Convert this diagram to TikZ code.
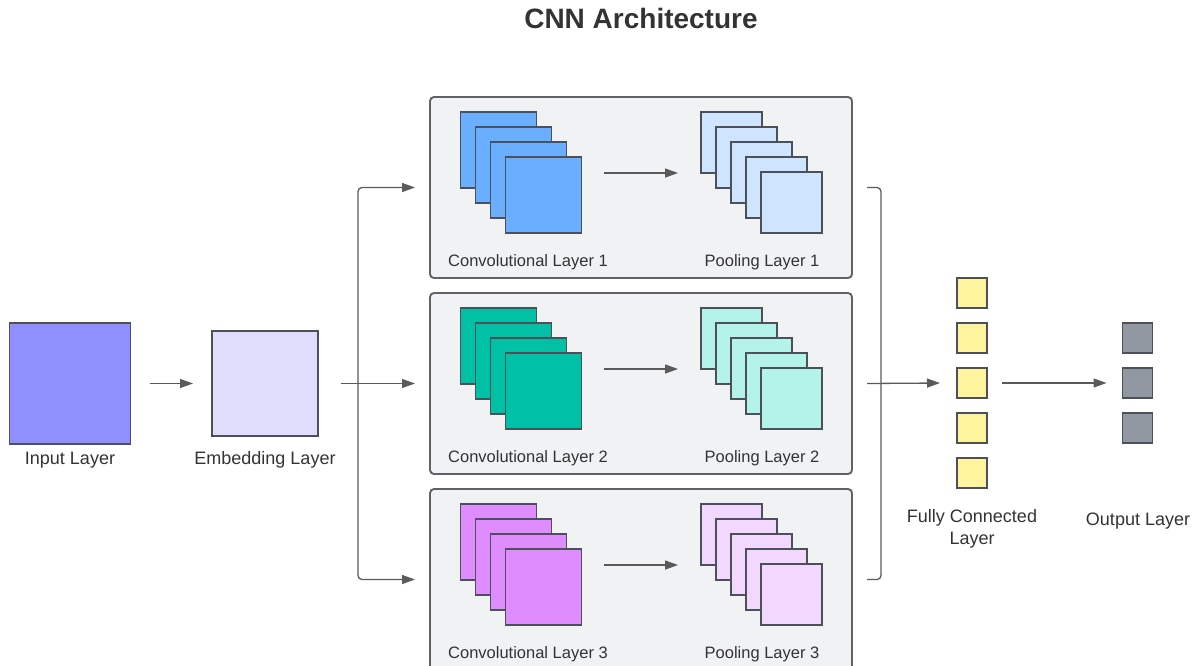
\documentclass[tikz,border=0pt]{standalone}
\usepackage{fontspec}
\setmainfont{Liberation Sans}
\usetikzlibrary{arrows.meta}

\definecolor{txt}{HTML}{333333}
\definecolor{wire}{HTML}{5A5A5A}
\definecolor{edge}{HTML}{4B5059}
\definecolor{panelfill}{HTML}{F1F2F4}
\definecolor{paneledge}{HTML}{5F6368}
\definecolor{inputc}{HTML}{8F8FFF}
\definecolor{embc}{HTML}{DEDEFC}
\definecolor{convA}{HTML}{6AAFFF}
\definecolor{poolA}{HTML}{CFE4FF}
\definecolor{convB}{HTML}{00C1A6}
\definecolor{poolB}{HTML}{B3F3E9}
\definecolor{convC}{HTML}{DF8CFF}
\definecolor{poolC}{HTML}{F2D8FF}
\definecolor{fcc}{HTML}{FEF49E}
\definecolor{outc}{HTML}{9298A1}

\tikzset{
  box/.style={draw=edge, line width=1.3pt, inner sep=0pt, outer sep=0pt},
  panel/.style={draw=paneledge, fill=panelfill, line width=1.9pt, rounded corners=4pt,
    minimum width=422pt, minimum height=181pt, inner sep=0pt, outer sep=0pt},
  lbl/.style={text=txt, font=\fontsize{16.5}{19}\selectfont, inner sep=0pt},
  biglbl/.style={text=txt, font=\fontsize{18}{21}\selectfont, inner sep=0pt},
  wireline/.style={draw=wire, line width=1.3pt},
  arr/.style={wireline, -{Triangle[length=13pt,width=9pt]}},
}

\begin{document}
\begin{tikzpicture}[x=1pt,y=-1pt]
\useasboundingbox (0,0) rectangle (1196,665);
\clip (0,0) rectangle (1196,665);

% title
\node[text=txt, font=\bfseries\fontsize{28}{32}\selectfont, inner sep=0pt] (title) at (641,18) {CNN Architecture};

% input and embedding
\node[box, fill=inputc, minimum width=121pt, minimum height=121pt] (inp) at (70,383.5) {};
\node[biglbl] (inplbl) at (70,460) {Input Layer};
\node[box, fill=embc, minimum width=106pt, minimum height=105pt] (emb) at (265,383.5) {};
\node[biglbl] (emblbl) at (265,460) {Embedding Layer};

% three convolution / pooling branches
\foreach \k/\cc/\pc in {1/convA/poolA, 2/convB/poolB, 3/convC/poolC}{
  \pgfmathsetmacro{\dy}{196*(\k-1)}
  \node[panel] (p\k) at (641,187.5+\dy) {};
  \foreach \i in {1,...,4}{
    \node[box, fill=\cc, minimum size=76pt] (c\k-\i) at (498.5+15*\i-15, 150+\dy+15*\i-15) {};
  }
  \foreach \i in {1,...,5}{
    \node[box, fill=\pc, minimum size=61pt] (q\k-\i) at (731.5+15*\i-15, 142.5+\dy+15*\i-15) {};
  }
  \node[lbl] (cl\k) at (528,262+\dy) {Convolutional Layer \k};
  \node[lbl] (ql\k) at (762,262+\dy) {Pooling Layer \k};
  \draw[arr] ([xshift=22pt]c\k-4.east |- q\k-1.south) -- ([xshift=-23pt]q\k-1.south west);
}

% fully connected and output units
\foreach \i in {1,...,5}{
  \node[box, fill=fcc, minimum size=30pt] (fc\i) at (972,293+45*\i-45) {};
}
\foreach \i in {1,...,3}{
  \node[box, fill=outc, minimum size=30pt] (out\i) at (1137.5,338+45*\i-45) {};
}
\node[biglbl, align=center] (fclbl) at (972,529) {Fully Connected\\[1pt]Layer};
\node[biglbl] (outlbl) at (1138,521) {Output Layer};

% connectors
\draw[arr] ([xshift=19pt]inp.east) -- ([xshift=-19pt]emb.west);
\coordinate (split) at ([xshift=40pt]emb.east);
\draw[arr] ([xshift=23pt]emb.east) -- ([xshift=-15pt]p2.west);
\draw[arr, rounded corners=4pt] (split) |- ([xshift=-15pt]p1.west);
\draw[arr, rounded corners=4pt] (split) |- ([xshift=-15pt]p3.west);

\draw[wireline, rounded corners=4pt] ([xshift=15pt]p1.east) -- ([xshift=29pt]p1.east)
  -- ([xshift=29pt]p3.east) -- ([xshift=15pt]p3.east);
\draw[arr] ([xshift=15pt]p2.east) -- ([xshift=-17pt]fc3.west);
\draw[arr] ([xshift=15pt]fc3.east) -- ([xshift=-16pt]out2.west);
\end{tikzpicture}
\end{document}
